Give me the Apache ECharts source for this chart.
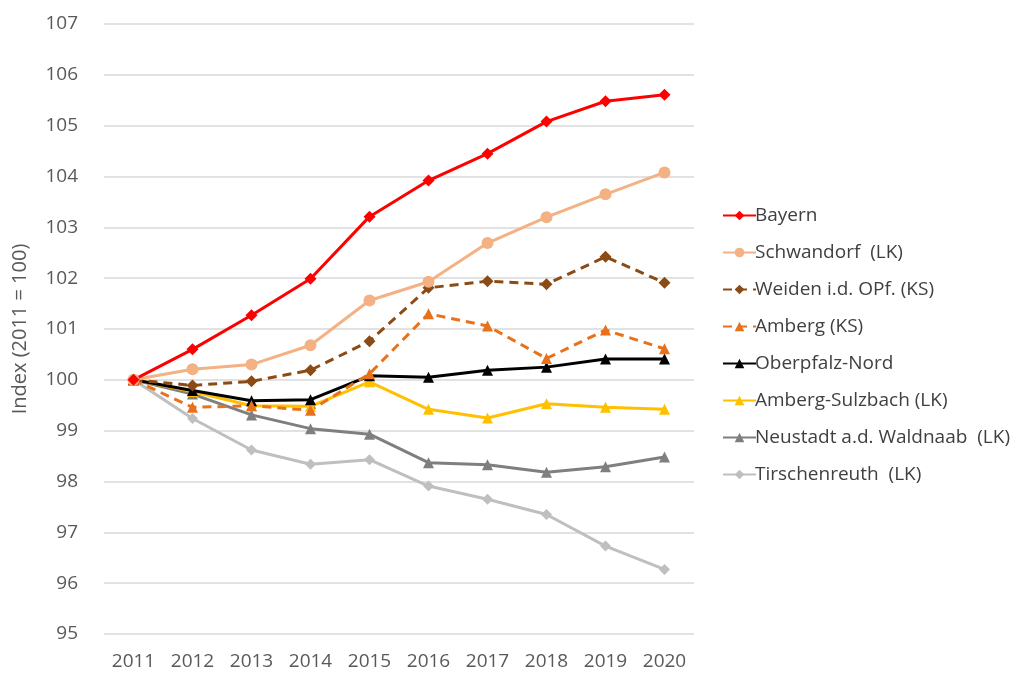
<!DOCTYPE html>
<html>
<head>
<meta charset="utf-8">
<script src="https://cdn.jsdelivr.net/npm/echarts@6/dist/echarts.min.js"></script>
<style>
  html, body { margin: 0; padding: 0; background: #fff; }
  #chart { width: 1032px; height: 673px; }
</style>
</head>
<body>
<div id="chart"></div>
<script>
const years = ['2011', '2012', '2013', '2014', '2015', '2016', '2017', '2018', '2019', '2020']

// Index (2011 = 100)
const bayern = [100, 100.60, 101.27, 101.99, 103.21, 103.92, 104.45, 105.08, 105.48, 105.61]
const schwandorf = [100, 100.21, 100.30, 100.68, 101.56, 101.93, 102.69, 103.20, 103.65, 104.08]
const weiden = [100, 99.89, 99.97, 100.19, 100.76, 101.81, 101.94, 101.88, 102.42, 101.91]
const amberg = [100, 99.46, 99.49, 99.40, 100.12, 101.30, 101.06, 100.42, 100.98, 100.61]
const oberpfalzNord = [100, 99.79, 99.59, 99.61, 100.08, 100.05, 100.19, 100.25, 100.41, 100.41]
const ambergSulzbach = [100, 99.77, 99.49, 99.48, 99.96, 99.42, 99.25, 99.53, 99.46, 99.42]
const neustadt = [100, 99.72, 99.31, 99.04, 98.93, 98.37, 98.33, 98.18, 98.29, 98.48]
const tirschenreuth = [100, 99.24, 98.62, 98.34, 98.43, 97.91, 97.65, 97.35, 96.73, 96.27]

const font = '"Open Sans", Lato, sans-serif'

const chart = echarts.init(document.getElementById('chart'))

const mk = (name, data, color, symbol, dashed, size) => ({
  name,
  type: 'line',
  data,
  symbol,
  symbolSize: size || 11,
  itemStyle: { color },
  lineStyle: { color, width: 3, type: dashed ? [9, 6] : 'solid' },
  emphasis: { disabled: true }
})

chart.setOption({
  animation: false,
  grid: { left: 104, right: 338, top: 24, bottom: 39 },
  legend: {
    orient: 'vertical',
    left: 717,
    top: 201,
    itemWidth: 33,
    itemHeight: 12,
    itemGap: 18,
    textStyle: { fontFamily: font, fontSize: 19, color: '#404040', padding: [0, 0, 0, -6] },
    data: ['Bayern', 'Schwandorf  (LK)', 'Weiden i.d. OPf. (KS)', 'Amberg (KS)', 'Oberpfalz-Nord',
      'Amberg-Sulzbach (LK)', 'Neustadt a.d. Waldnaab  (LK)', 'Tirschenreuth  (LK)']
  },
  xAxis: {
    type: 'category',
    data: years,
    axisLine: { show: false },
    axisTick: { show: false },
    axisLabel: { fontFamily: font, fontSize: 19, color: '#595959', margin: 18 }
  },
  yAxis: {
    type: 'value',
    min: 95,
    max: 107,
    interval: 1,
    name: 'Index (2011 = 100)',
    nameLocation: 'middle',
    nameGap: 74,
    nameTextStyle: { fontFamily: font, fontSize: 20, color: '#595959' },
    axisLabel: { fontFamily: font, fontSize: 19, color: '#595959', margin: 26 },
    splitLine: { lineStyle: { color: '#d9d9d9', width: 1.5 } }
  },
  series: [
    mk('Tirschenreuth  (LK)', tirschenreuth, '#bfbfbf', 'diamond', false, 11),
    mk('Neustadt a.d. Waldnaab  (LK)', neustadt, '#7f7f7f', 'triangle', false, 11),
    mk('Amberg-Sulzbach (LK)', ambergSulzbach, '#ffc000', 'triangle', false, 11),
    mk('Oberpfalz-Nord', oberpfalzNord, '#000000', 'triangle', false, 11),
    mk('Amberg (KS)', amberg, '#e8711b', 'triangle', true, 11),
    mk('Weiden i.d. OPf. (KS)', weiden, '#8c4a14', 'diamond', true, 12),
    mk('Schwandorf  (LK)', schwandorf, '#f4b183', 'circle', false, 12),
    mk('Bayern', bayern, '#ff0000', 'diamond', false, 12)
  ]
})
</script>
</body>
</html>
